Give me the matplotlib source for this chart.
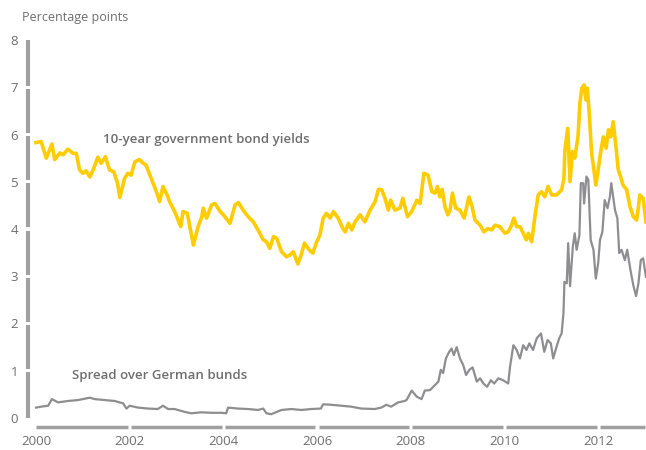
import matplotlib
matplotlib.use("Agg")
import matplotlib.pyplot as plt

plt.rcParams['font.family'] = ['Open Sans', 'DejaVu Sans']

# ---- data ----
yield_dates = [
    2000.00, 2000.11, 2000.22, 2000.34, 2000.40, 2000.51, 2000.58, 2000.68, 2000.79, 2000.86,
    2000.93, 2001.00, 2001.07, 2001.15, 2001.22, 2001.32, 2001.39, 2001.48, 2001.57, 2001.66,
    2001.74, 2001.79, 2001.89, 2001.96, 2002.03, 2002.11, 2002.21, 2002.28, 2002.35, 2002.50,
    2002.57, 2002.64, 2002.71, 2002.80, 2002.85, 2002.96, 2003.09, 2003.14, 2003.23, 2003.36,
    2003.46, 2003.54, 2003.57, 2003.64, 2003.75, 2003.82, 2003.93, 2004.00, 2004.14, 2004.25,
    2004.32, 2004.42, 2004.53, 2004.64, 2004.74, 2004.85, 2004.92, 2004.99, 2005.07, 2005.14,
    2005.24, 2005.35, 2005.42, 2005.49, 2005.59, 2005.66, 2005.73, 2005.83, 2005.91, 2005.98,
    2006.06, 2006.13, 2006.20, 2006.28, 2006.35, 2006.45, 2006.53, 2006.60, 2006.67, 2006.74,
    2006.81, 2006.92, 2007.02, 2007.13, 2007.24, 2007.31, 2007.38, 2007.45, 2007.52, 2007.57,
    2007.66, 2007.77, 2007.83, 2007.93, 2008.02, 2008.13, 2008.20, 2008.28, 2008.37, 2008.45,
    2008.52, 2008.57, 2008.62, 2008.67, 2008.73, 2008.79, 2008.84, 2008.89, 2008.96, 2009.05,
    2009.14, 2009.24, 2009.30, 2009.37, 2009.48, 2009.56, 2009.65, 2009.73, 2009.80, 2009.90,
    2010.01, 2010.08, 2010.15, 2010.20, 2010.26, 2010.33, 2010.40, 2010.47, 2010.51, 2010.58,
    2010.65, 2010.72, 2010.79, 2010.86, 2010.93, 2011.01, 2011.11, 2011.22, 2011.27, 2011.29,
    2011.35, 2011.40, 2011.45, 2011.50, 2011.57, 2011.61, 2011.65, 2011.70, 2011.74, 2011.77,
    2011.81, 2011.86, 2011.91, 2011.95, 2012.00, 2012.05, 2012.11, 2012.17, 2012.22, 2012.27,
    2012.32, 2012.38, 2012.43, 2012.48, 2012.53, 2012.61, 2012.68, 2012.75, 2012.82, 2012.86,
    2012.89, 2012.96, 2013.02,
]
yield_values = [
    5.83, 5.85, 5.50, 5.80, 5.47, 5.61, 5.57, 5.69, 5.60, 5.60,
    5.25, 5.18, 5.23, 5.10, 5.25, 5.52, 5.39, 5.53, 5.25, 5.21,
    4.97, 4.67, 5.07, 5.18, 5.14, 5.42, 5.47, 5.40, 5.35, 4.97,
    4.79, 4.58, 4.90, 4.72, 4.58, 4.37, 4.05, 4.37, 4.33, 3.66,
    4.05, 4.26, 4.44, 4.23, 4.51, 4.54, 4.37, 4.30, 4.12, 4.51,
    4.56, 4.40, 4.26, 4.15, 3.98, 3.77, 3.73, 3.59, 3.84, 3.80,
    3.52, 3.41, 3.45, 3.52, 3.26, 3.45, 3.70, 3.56, 3.49, 3.70,
    3.87, 4.23, 4.33, 4.23, 4.37, 4.23, 4.05, 3.94, 4.12, 3.98,
    4.15, 4.30, 4.15, 4.40, 4.58, 4.84, 4.83, 4.65, 4.40, 4.61,
    4.40, 4.44, 4.65, 4.26, 4.37, 4.61, 4.54, 5.18, 5.14, 4.79,
    4.76, 4.90, 4.68, 4.84, 4.47, 4.30, 4.40, 4.76, 4.44, 4.40,
    4.23, 4.68, 4.51, 4.19, 4.08, 3.94, 4.01, 3.98, 4.08, 4.05,
    3.91, 3.94, 4.08, 4.23, 4.05, 4.05, 3.91, 3.77, 3.91, 3.73,
    4.26, 4.72, 4.79, 4.68, 4.90, 4.72, 4.72, 4.83, 5.07, 5.67,
    6.13, 5.00, 5.64, 5.50, 5.95, 6.66, 6.98, 7.05, 6.73, 6.98,
    6.45, 5.60, 5.25, 4.93, 5.25, 5.60, 5.95, 5.71, 6.10, 5.95,
    6.27, 5.74, 5.25, 5.11, 4.93, 4.83, 4.47, 4.26, 4.19, 4.47,
    4.72, 4.65, 4.15,
]

spread_dates = [
    2000.00, 2000.11, 2000.26, 2000.34, 2000.47, 2000.68, 2000.90, 2001.00, 2001.15, 2001.25,
    2001.47, 2001.68, 2001.86, 2001.93, 2002.00, 2002.18, 2002.39, 2002.60, 2002.71, 2002.82,
    2002.96, 2003.17, 2003.31, 2003.53, 2003.74, 2003.96, 2004.06, 2004.10, 2004.31, 2004.53,
    2004.74, 2004.85, 2004.92, 2005.02, 2005.24, 2005.45, 2005.66, 2005.88, 2006.08, 2006.13,
    2006.30, 2006.52, 2006.73, 2006.94, 2007.23, 2007.37, 2007.48, 2007.58, 2007.73, 2007.87,
    2007.91, 2008.02, 2008.13, 2008.23, 2008.30, 2008.41, 2008.52, 2008.59, 2008.64, 2008.69,
    2008.75, 2008.82, 2008.87, 2008.92, 2008.98, 2009.05, 2009.12, 2009.18, 2009.25, 2009.32,
    2009.41, 2009.48, 2009.55, 2009.63, 2009.71, 2009.78, 2009.87, 2009.97, 2010.08, 2010.12,
    2010.19, 2010.26, 2010.33, 2010.40, 2010.47, 2010.53, 2010.61, 2010.69, 2010.78, 2010.85,
    2010.92, 2010.99, 2011.04, 2011.10, 2011.17, 2011.22, 2011.26, 2011.28, 2011.33, 2011.36,
    2011.40, 2011.46, 2011.50, 2011.54, 2011.60, 2011.63, 2011.68, 2011.70, 2011.75, 2011.79,
    2011.84, 2011.90, 2011.95, 2012.00, 2012.04, 2012.09, 2012.14, 2012.20, 2012.25, 2012.28,
    2012.36, 2012.41, 2012.45, 2012.50, 2012.57, 2012.62, 2012.69, 2012.75, 2012.81, 2012.86,
    2012.91, 2012.96, 2013.02,
]
spread_values = [
    0.22, 0.24, 0.26, 0.40, 0.33, 0.36, 0.38, 0.40, 0.43, 0.40,
    0.38, 0.36, 0.31, 0.20, 0.26, 0.22, 0.20, 0.19, 0.26, 0.19,
    0.19, 0.13, 0.10, 0.12, 0.11, 0.11, 0.10, 0.22, 0.20, 0.19,
    0.17, 0.20, 0.10, 0.08, 0.17, 0.19, 0.17, 0.19, 0.20, 0.29,
    0.28, 0.26, 0.24, 0.20, 0.19, 0.22, 0.28, 0.24, 0.33, 0.36,
    0.38, 0.58, 0.45, 0.40, 0.58, 0.59, 0.70, 0.77, 1.02, 0.95,
    1.26, 1.40, 1.47, 1.33, 1.50, 1.26, 1.12, 0.91, 1.02, 1.07,
    0.77, 0.84, 0.73, 0.66, 0.80, 0.73, 0.84, 0.80, 0.73, 1.09,
    1.54, 1.44, 1.26, 1.54, 1.44, 1.58, 1.44, 1.69, 1.79, 1.40,
    1.65, 1.58, 1.26, 1.47, 1.69, 1.79, 2.22, 2.88, 2.85, 3.70,
    2.79, 3.63, 3.91, 3.56, 3.87, 4.97, 4.97, 4.54, 5.11, 5.04,
    3.77, 3.56, 2.95, 3.27, 3.77, 3.94, 4.61, 4.44, 4.68, 4.97,
    4.40, 4.23, 3.49, 3.56, 3.34, 3.56, 3.13, 2.81, 2.58, 2.85,
    3.34, 3.38, 2.99,
]

x_ticks = [2000, 2002, 2004, 2006, 2008, 2010, 2012]
y_ticks = [0, 1, 2, 3, 4, 5, 6, 7, 8]
y_label = "Percentage points"
yield_label = "10-year government bond yields"
spread_label = "Spread over German bunds"

# ---- styling ----
YELLOW = "#FFCC00"
GREY_LINE = "#8E8E90"
AXIS_GREY = "#A0A0A0"
TEXT_GREY = "#6E6E6E"

W, H = 646, 450
fig = plt.figure(figsize=(W / 100, H / 100), dpi=100)
ax_left, ax_right = 36, 645
ax_top, ax_bottom = 40, 418
ax = fig.add_axes([ax_left / W, 1 - ax_bottom / H, (ax_right - ax_left) / W, (ax_bottom - ax_top) / H])

ax.plot(spread_dates, spread_values, color=GREY_LINE, lw=1.6, solid_joinstyle='round', clip_on=False, zorder=3)
ax.plot(yield_dates, yield_values, color=YELLOW, lw=2.6, solid_joinstyle='round', clip_on=False, zorder=4)

ax.set_xlim(2000, 2013)
ax.set_ylim(0, 8)
for s in ax.spines.values():
    s.set_visible(False)

ax.set_xticks(x_ticks)
ax.set_xticklabels([str(t) for t in x_ticks])
ax.set_yticks(y_ticks)
ax.set_yticklabels([str(t) for t in y_ticks])
ax.tick_params(axis='both', length=0, labelsize=9.5, labelcolor=TEXT_GREY)
ax.tick_params(axis='x', pad=12)
ax.tick_params(axis='y', pad=13)

axw = ax_right - ax_left
axh = ax_bottom - ax_top
# segmented vertical axis line
ytr = ax.get_yaxis_transform()
xpos = -8 / axw
gap_y = 1.6 / axh * 8
for i in range(len(y_ticks) - 1):
    lo = y_ticks[i] + (gap_y if i > 0 else 0)
    hi = y_ticks[i + 1] - (gap_y if i + 1 < len(y_ticks) - 1 else 0)
    ax.plot([xpos, xpos], [lo, hi], transform=ytr, color=AXIS_GREY, lw=3, solid_capstyle='butt', clip_on=False)

# segmented horizontal axis line
xtr = ax.get_xaxis_transform()
ypos = -9 / axh
gap_x = 1.6 / axw * 13
edges = x_ticks + [2013]
for i in range(len(edges) - 1):
    lo = edges[i] + (gap_x if i > 0 else 0)
    hi = edges[i + 1] - (gap_x if i + 1 < len(edges) - 1 else 0)
    ax.plot([lo, hi], [ypos, ypos], transform=xtr, color=AXIS_GREY, lw=2.5, solid_capstyle='butt', clip_on=False)

fig.text(22 / W, 1 - 17 / H, y_label, ha='left', va='center', fontsize=9, color=TEXT_GREY)
ax.text(2000 + (103 - 36) / 46.85, 5.9, yield_label, ha='left', va='center', fontsize=9.5,
        color=TEXT_GREY, fontweight='semibold')
ax.text(2000 + (72 - 36) / 46.85, 0.89, spread_label, ha='left', va='center', fontsize=9.5,
        color=TEXT_GREY, fontweight='semibold')

fig.savefig("out.png", dpi=100)
